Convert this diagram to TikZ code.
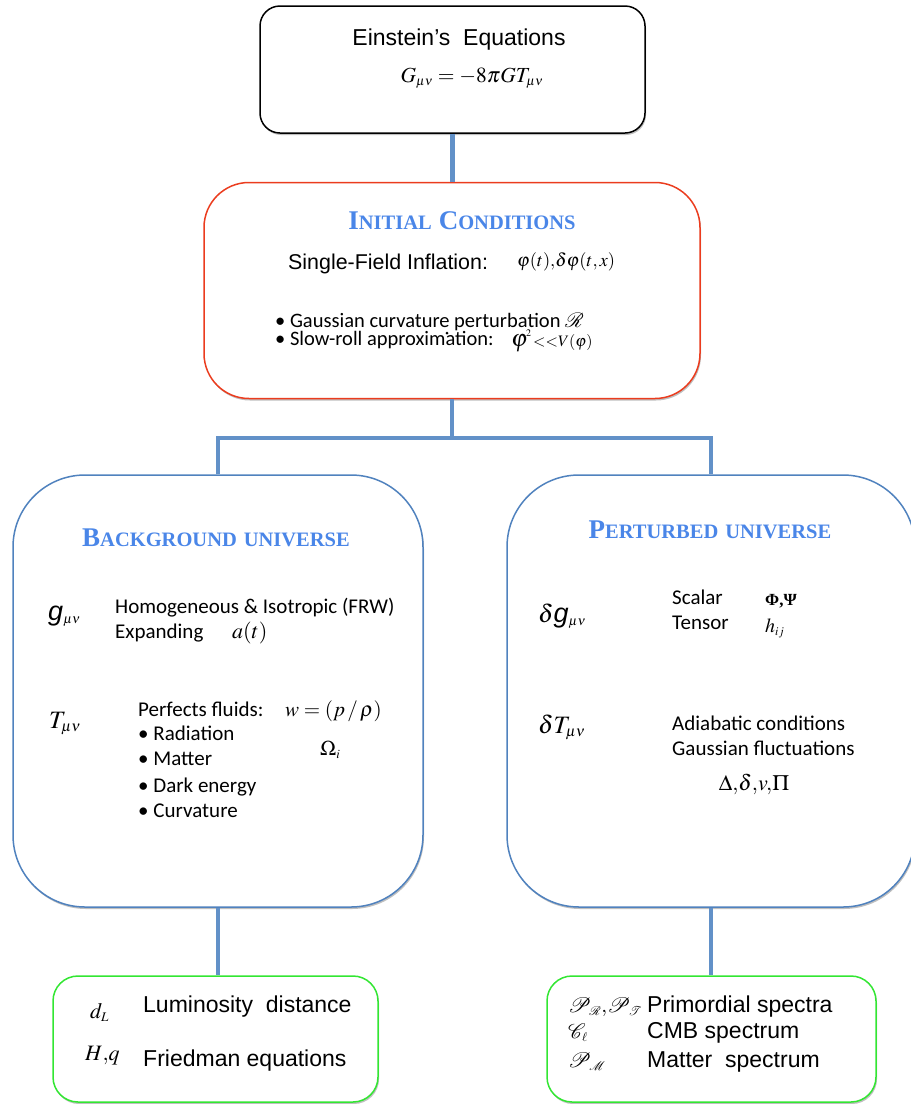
\documentclass[tikz,border=0pt]{standalone}
\usepackage{mathptmx}
\usepackage{fontspec}
\usetikzlibrary{shadows}
\newfontfamily\arial{Liberation Sans}
\newfontfamily\calib{Carlito}
\newfontfamily\titlef{Liberation Serif}
\newcommand\fsz[1]{\fontsize{#1}{#1}\selectfont}
\newcommand\sct[2]{{\fsz{27}#1}{\fsz{20.5}#2}}
\definecolor{titleblue}{RGB}{74,134,232}
\definecolor{boxblue}{RGB}{80,130,190}
\definecolor{connblue}{RGB}{98,145,200}
\definecolor{icred}{RGB}{235,60,30}
\definecolor{greenb}{RGB}{50,230,50}
\begin{document}
\begin{tikzpicture}[x=1pt,y=-1pt,
  box/.style={draw, line width=1.5pt, fill=white, inner sep=0pt,
    drop shadow={shadow xshift=1pt, shadow yshift=-2pt, fill=black, opacity=0.25}},
  conn/.style={draw=connblue, line width=4.5pt},
  txt/.style={anchor=base west, inner sep=0pt},
  ctxt/.style={anchor=base, inner sep=0pt},
  ttl/.style={ctxt, font=\titlef\bfseries, text=titleblue},
  ar/.style={font=\arial\fsz{#1}},
  cb/.style={font=\calib\fsz{#1}},
  mt/.style={font=\fsz{#1}}]
\useasboundingbox (0,0) rectangle (911,1104);

% boxes
\node[box, draw=black, rounded corners=20pt, minimum width=385pt, minimum height=127pt] (ein) at (452.5,69.5) {};
\node[box, draw=icred, rounded corners=45pt, minimum width=496pt, minimum height=216pt] (ic) at (452,290.5) {};
\node[box, draw=boxblue, rounded corners=72pt, minimum width=410pt, minimum height=432pt] (bg) at (218,691) {};
\node[box, draw=boxblue, rounded corners=72pt, minimum width=408pt, minimum height=432pt] (pb) at (711,691) {};
\node[box, draw=greenb, rounded corners=25pt, minimum width=325pt, minimum height=126pt] (gl) at (215.5,1039) {};
\node[box, draw=greenb, rounded corners=25pt, minimum width=329pt, minimum height=126pt] (gr) at (711.5,1039) {};

% connectors
\coordinate (jn) at (452,438);
\draw[conn] (ein.south) -- (ein.south |- ic.north);
\draw[conn] (ic.south) -- (jn);
\draw[conn] (bg.north) |- (jn) -| (pb.north);
\draw[conn] (bg.south) -- (bg.south |- gl.north);
\draw[conn] (pb.south) -- (pb.south |- gr.north);

% Einstein box
\node[ctxt, ar=23] (t1) at (459,45) {Einstein’s\ \ Equations};
\node[ctxt, mt=21.5] (t2) at (472,82) {$G_{\scriptscriptstyle\mu\nu} = -8\pi G T_{\scriptscriptstyle\mu\nu}$};

% Initial conditions
\node[ttl] (ict) at (462,229) {\sct{I}{NITIAL}\hspace{7pt}\sct{C}{ONDITIONS}};
\node[txt, ar=21.4] (sfi) at (288,269) {Single-Field Inflation:};
\node[txt, mt=18.5] (sfm) at (517,266) {$\varphi(t),\!\delta\varphi(t,x)$};
\node[txt, cb=20.5] (b1) at (275,327) {• Gaussian curvature perturbation $\mathcal{R}$};
\node[txt, cb=20.5] (b2) at (275,345) {• Slow-roll approximation:};
\node[txt, mt=24] (b2m) at (511,346) {$\varphi$};
\node[txt, mt=10] (b2s) at (526,336) {$2$};
\node[txt, mt=16] (b2n) at (533,346) {$\mathord{<}\mathord{<}V(\varphi)$};
\fill (447,333) circle (1.5pt);

% Background universe
\node[ttl] (bgt) at (216,546) {\sct{B}{ACKGROUND}\hspace{7pt}{\fsz{20.5}UNIVERSE}};
\node[txt] (gmn) at (48,620) {{\fsz{27}\arial\itshape g}{\fsz{22}$_{\scriptscriptstyle\mu\nu}$}};
\node[txt, cb=21] (hom) at (115,613) {Homogeneous \& Isotropic (FRW)};
\node[txt, cb=21] (exp) at (115,638) {Expanding};
\node[txt, mt=22] (at) at (232,638) {$a(t)$};
\node[txt, mt=25] (tmn) at (49,728) {$T_{\scriptscriptstyle\mu\nu}$};
\node[txt, cb=21] (pf) at (138,716) {Perfects fluids:};
\node[txt, mt=21] (wp) at (285,716) {$w=(p\,/\,\rho)$};
\node[txt, cb=21] (r1) at (138,740) {• Radiation};
\node[txt, cb=21] (r2) at (138,765) {• Matter};
\node[txt, cb=21] (r3) at (138,792) {• Dark energy};
\node[txt, cb=21] (r4) at (138,817) {• Curvature};
\node[txt, mt=21] (om) at (320,755) {$\Omega_{\scriptscriptstyle i}$};

% Perturbed universe
\node[ttl] (pbt) at (710,538) {\sct{P}{ERTURBED}\hspace{7pt}{\fsz{20.5}UNIVERSE}};
\node[txt] (dg) at (538,622) {{\fsz{25}$\delta$}{\fsz{27}\arial\itshape g}{\fsz{22}$_{\scriptscriptstyle\mu\nu}$}};
\node[txt, cb=21] (sc) at (672,604) {Scalar};
\node[txt, cb=21] (te) at (672,629) {Tensor};
\node[txt, font=\titlef\bfseries\fsz{17}] (pp) at (765,605) {Φ,Ψ};
\node[txt, mt=20] (hij) at (765,632) {$h_{\scriptscriptstyle ij}$};
\node[txt, mt=25] (dt) at (538,733) {$\delta T_{\scriptscriptstyle\mu\nu}$};
\node[txt, cb=21] (ad) at (672,730) {Adiabatic conditions};
\node[txt, cb=21] (gf) at (672,755) {Gaussian fluctuations};
\node[ctxt, mt=22] (dd) at (754,790) {$\Delta,\!\delta,\!v,\!\Pi$};

% Green left
\node[txt, mt=22] (dl) at (90,1018) {$d_{\scriptscriptstyle L}$};
\node[txt, ar=23] (ld) at (143,1012) {Luminosity\ \ distance};
\node[txt, mt=22] (hq) at (85,1060) {$H,\!q$};
\node[txt, ar=23] (fe) at (143,1066) {Friedman equations};

% Green right
\node[txt, mt=21] (pr) at (568,1012) {$\mathcal{P}_{\scriptscriptstyle\mathcal{R}},\!\mathcal{P}_{\scriptscriptstyle\mathcal{T}}$};
\node[txt, ar=23] (ps) at (647,1012) {Primordial spectra};
\node[txt, mt=21] (cl) at (568,1038) {$\mathcal{C}_{\scriptscriptstyle\ell}$};
\node[txt, ar=23] (cs) at (647,1038) {CMB spectrum};
\node[txt, mt=21] (pm) at (568,1067) {$\mathcal{P}_{\scriptscriptstyle\mathcal{M}}$};
\node[txt, ar=23] (ms) at (647,1067) {Matter\ \ spectrum};
\end{tikzpicture}
\end{document}
